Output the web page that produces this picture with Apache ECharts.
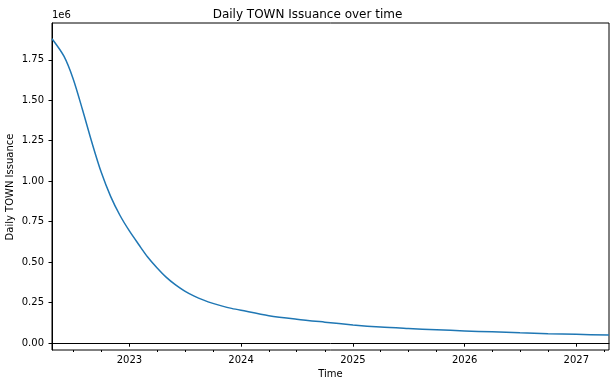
<!DOCTYPE html>
<html>
<head>
<meta charset="utf-8">
<script src="https://cdn.jsdelivr.net/npm/echarts@6/dist/echarts.min.js"></script>
<style>
html,body{margin:0;padding:0;background:#fff;}
#chart{width:615px;height:387px;}
</style>
</head>
<body>
<div id="chart"></div>
<script>
// Data
var dates = [
  '2022-04-23','2022-06-01','2022-07-01','2022-08-01','2022-09-01',
  '2022-10-01','2022-11-01','2022-12-01','2023-01-01','2023-02-01','2023-03-01',
  '2023-04-01','2023-05-01','2023-06-01','2023-07-01','2023-08-01','2023-09-01',
  '2023-10-01','2023-11-01','2023-12-01','2024-01-01','2024-04-01','2024-07-01',
  '2024-10-01','2025-01-01','2025-04-01','2025-07-01','2025-10-01','2026-01-01',
  '2026-04-01','2026-07-01','2026-10-01','2027-01-01','2027-04-18'
];
var values = [
  1880000,1772000,1633000,1440000,1236000,
  1055000,905000,790000,693000,608000,534000,
  466000,408000,360000,322000,291000,266000,
  246000,229000,215000,203000,170000,148000,
  130000,113000,100000,91000,83000,76000,
  70000,64000,59000,55000,50000
];
var yTicks = [0,250000,500000,750000,1000000,1250000,1500000,1750000];
var yearTicks = ['2023-01-01','2024-01-01','2025-01-01','2026-01-01','2027-01-01'];
var quarterTicks = ['2022-07-01','2022-10-01','2023-04-01','2023-07-01','2023-10-01',
  '2024-04-01','2024-07-01','2024-10-01','2025-04-01','2025-07-01','2025-10-01',
  '2026-04-01','2026-07-01','2026-10-01','2027-04-01'];
var titleText = 'Daily TOWN Issuance over time';
var yName = 'Daily TOWN Issuance';
var xName = 'Time';

function ts(s){ var p = s.split('-'); return Date.UTC(+p[0], +p[1]-1, +p[2]); }
var seriesData = dates.map(function(d,i){ return [ts(d), values[i]]; });
var xMin = ts(dates[0]), xMax = ts(dates[dates.length-1]);
var yMin = -42000, yMax = 1977000;
var font = 'DejaVu Sans';

var chart = echarts.init(document.getElementById('chart'), null, {renderer:'canvas'});
chart.setOption({
  animation: false,
  backgroundColor: '#fff',
  title: {
    text: titleText, left: 'center', top: 4,
    textStyle: {fontFamily: font, fontSize: 12, fontWeight: 'normal', color: '#000'}
  },
  grid: {left: 52, top: 23, right: 6, bottom: 37, show: true, borderColor: '#000', borderWidth: 1,
    containLabel: false, outerBoundsMode: 'none'},
  xAxis: [{
    type: 'value', min: xMin, max: xMax, scale: true,
    name: xName, nameLocation: 'middle', nameGap: 18,
    nameTextStyle: {fontFamily: font, fontSize: 10, color: '#000'},
    axisLine: {show: true, lineStyle: {color: '#000', width: 1}},
    axisTick: {show: true, length: 3.5, lineStyle: {color: '#000'}, customValues: yearTicks.map(ts)},
    axisLabel: {show: true, margin: 5, fontFamily: font, fontSize: 10, color: '#000',
      customValues: yearTicks.map(ts),
      formatter: function(v){ return String(new Date(v).getUTCFullYear()); }},
    splitLine: {show: false}
  },{
    type: 'value', min: xMin, max: xMax, scale: true, position: 'bottom',
    axisLine: {show: false},
    axisTick: {show: true, length: 2, lineStyle: {color: '#000'}, customValues: quarterTicks.map(ts)},
    axisLabel: {show: false},
    splitLine: {show: false}
  }],
  yAxis: {
    type: 'value', min: yMin, max: yMax,
    axisLine: {show: true, lineStyle: {color: '#000', width: 1}},
    axisTick: {show: true, length: 3.5, lineStyle: {color: '#000'}, customValues: yTicks},
    axisLabel: {show: true, margin: 8, fontFamily: font, fontSize: 10, color: '#000',
      customValues: yTicks,
      formatter: function(v){ return (v/1e6).toFixed(2); }},
    splitLine: {show: false}
  },
  graphic: [{
    type: 'text', left: 52, top: 10,
    style: {text: '1e6', fontFamily: font, fontSize: 10, fill: '#000'}
  },{
    type: 'text', x: 10, y: 187, rotation: Math.PI / 2,
    style: {text: yName, fontFamily: font, fontSize: 10, fill: '#000', align: 'center', verticalAlign: 'middle'}
  }],
  series: [{
    type: 'line', xAxisIndex: 0, data: seriesData,
    showSymbol: false, smooth: 0.3,
    lineStyle: {color: '#1f77b4', width: 1.5},
    clip: true
  }]
});
</script>
</body>
</html>
